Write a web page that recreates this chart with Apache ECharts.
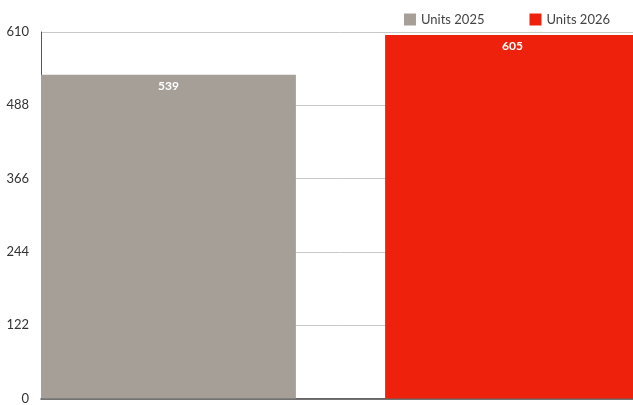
<!DOCTYPE html>
<html>
<head>
<meta charset="utf-8">
<script src="https://cdn.jsdelivr.net/npm/echarts@6/dist/echarts.min.js"></script>
<style>
  html, body { margin: 0; padding: 0; background: #fff; overflow: hidden; }
  /* the red bar runs off the right edge in the original, so the canvas is a bit wider than the window */
  #chart { width: 640px; height: 405px; }
</style>
</head>
<body>
<div id="chart"></div>
<script>
// data
const categories = ['Units'];
const seriesNames = ['Units 2025', 'Units 2026'];
const units2025 = [539];
const units2026 = [605];
const colors = ['#a59f98', '#ee220c'];

const chart = echarts.init(document.getElementById('chart'));

const label = {
  show: true,
  position: 'insideTop',
  distance: 5,
  color: '#fff',
  fontFamily: 'Lato',
  fontWeight: 'bold',
  fontSize: 12,
};

chart.setOption({
  animation: false,
  textStyle: { fontFamily: 'Lato' },
  legend: {
    top: 8,
    right: 25,
    icon: 'rect',
    itemWidth: 12,
    itemHeight: 12,
    itemGap: 45,
    textStyle: { color: '#444', fontSize: 13, fontFamily: 'Lato' },
    data: seriesNames,
  },
  grid: { left: 41, right: 0, top: 32, bottom: 6, containLabel: false },
  xAxis: {
    type: 'category',
    data: categories,
    axisTick: { show: false },
    axisLabel: { show: false },
    axisLine: { lineStyle: { color: '#444', width: 1.5 } },
  },
  yAxis: {
    type: 'value',
    min: 0,
    max: 610,
    interval: 122,
    axisLine: { show: true, lineStyle: { color: '#555' } },
    axisTick: { show: false },
    axisLabel: { color: '#333', fontSize: 13, margin: 12, fontFamily: 'Lato' },
    splitLine: { lineStyle: { color: '#c8c8c8' } },
  },
  series: [
    {
      name: seriesNames[0],
      type: 'bar',
      data: units2025,
      itemStyle: { color: colors[0] },
      barCategoryGap: '0%',
      barGap: '35%',
      label: label,
    },
    {
      name: seriesNames[1],
      type: 'bar',
      data: units2026,
      itemStyle: { color: colors[1] },
      barCategoryGap: '0%',
      barGap: '35%',
      label: label,
    },
  ],
});
</script>
</body>
</html>
